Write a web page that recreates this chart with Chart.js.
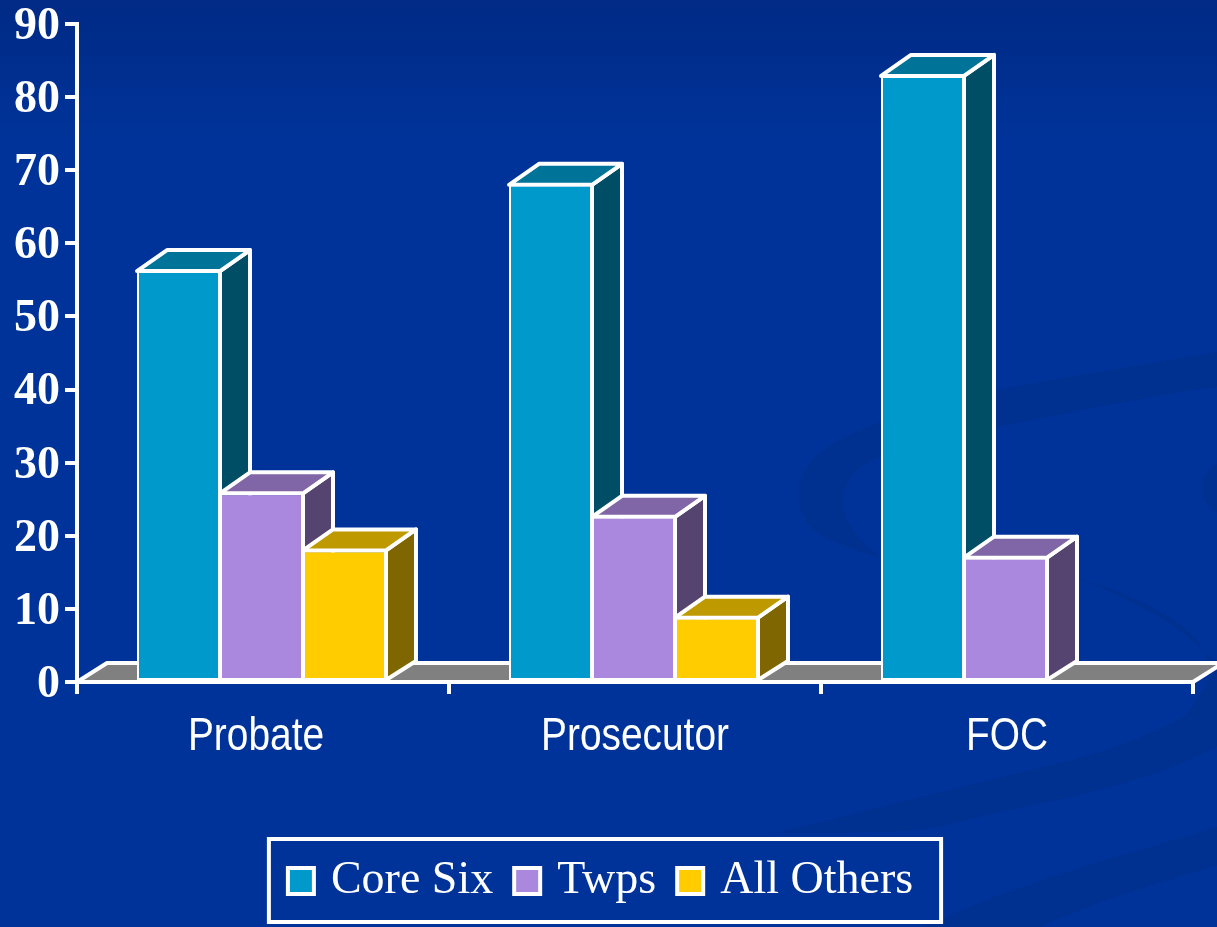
<!DOCTYPE html>
<html>
<head>
<meta charset="utf-8">
<style>
  html, body { margin: 0; padding: 0; background: #003399; overflow: hidden; }
  canvas { display: block; }
</style>
<script src="https://cdn.jsdelivr.net/npm/chart.js@4"></script>
</head>
<body>
<canvas id="myChart" width="1217" height="927"></canvas>
<script>
const categories = ['Probate', 'Prosecutor', 'FOC'];
const coreSix = [56.2, 68, 82.9];
const twps = [25.8, 22.6, 17];
const allOthers = [18, 8.8, null];
const seriesNames = ['Core Six', 'Twps', 'All Others'];

// front, side and top colour of each series
const frontColors = ['#0099cc', '#aa88dd', '#ffcc00'];
const sideColors = ['#004d66', '#55446f', '#806600'];
const topColors = ['#007399', '#8066a6', '#bf9900'];

const depthX = 30;
const barDepthY = 21;
const floorDepthY = 19;
// the labels are not quite centred in the original
const labelNudge = [-7, 0, 0];
const legendLift = 8;

function poly(ctx, pts, fill) {
    ctx.beginPath();
    ctx.moveTo(pts[0][0], pts[0][1]);
    for (let i = 1; i < pts.length; i++) {
        ctx.lineTo(pts[i][0], pts[i][1]);
    }
    ctx.closePath();
    ctx.fillStyle = fill;
    ctx.fill();
    ctx.lineJoin = 'round';
    ctx.lineWidth = 4;
    ctx.strokeStyle = '#ffffff';
    ctx.stroke();
}

// slide background with the darker swooshes
const backdrop = {
    id: 'backdrop',
    beforeDraw(chart) {
        const ctx = chart.ctx;
        const grad = ctx.createLinearGradient(0, 0, 0, 140);
        grad.addColorStop(0, '#002a85');
        grad.addColorStop(1, '#003399');
        ctx.fillStyle = grad;
        ctx.fillRect(0, 0, chart.width, chart.height);

        ctx.fillStyle = '#003090';
        // crescent
        ctx.beginPath();
        ctx.moveTo(1217, 352);
        ctx.bezierCurveTo(1140, 365, 1060, 378, 997, 390);
        ctx.bezierCurveTo(930, 402, 860, 425, 823, 450);
        ctx.bezierCurveTo(795, 470, 790, 505, 813, 530);
        ctx.bezierCurveTo(830, 542, 860, 552, 880, 557);
        ctx.bezierCurveTo(860, 540, 843, 525, 843, 500);
        ctx.bezierCurveTo(843, 480, 860, 465, 880, 457);
        ctx.bezierCurveTo(930, 440, 960, 433, 997, 427);
        ctx.bezierCurveTo(1060, 415, 1140, 397, 1217, 387);
        ctx.closePath();
        ctx.fill();

        // small patch on the right edge
        ctx.beginPath();
        ctx.moveTo(1217, 463);
        ctx.bezierCurveTo(1205, 472, 1200, 480, 1202, 492);
        ctx.bezierCurveTo(1204, 502, 1210, 508, 1217, 513);
        ctx.closePath();
        ctx.fill();

        // thin line widening into the wide band
        ctx.beginPath();
        ctx.moveTo(1077, 578);
        ctx.bezierCurveTo(1120, 590, 1170, 610, 1197, 640);
        ctx.bezierCurveTo(1215, 665, 1212, 685, 1183, 717);
        ctx.bezierCurveTo(1150, 735, 1110, 750, 1073, 760);
        ctx.bezierCurveTo(1010, 775, 960, 788, 907, 800);
        ctx.bezierCurveTo(860, 812, 810, 825, 773, 833);
        ctx.bezierCurveTo(830, 832, 885, 835, 940, 827);
        ctx.bezierCurveTo(985, 815, 1030, 805, 1073, 797);
        ctx.bezierCurveTo(1095, 790, 1120, 785, 1140, 778);
        ctx.bezierCurveTo(1170, 770, 1195, 757, 1217, 747);
        ctx.lineTo(1217, 665);
        ctx.bezierCurveTo(1190, 630, 1130, 598, 1077, 578);
        ctx.closePath();
        ctx.fill();

        // bottom band
        ctx.beginPath();
        ctx.moveTo(1217, 827);
        ctx.bezierCurveTo(1170, 842, 1120, 855, 1073, 870);
        ctx.bezierCurveTo(1025, 885, 970, 905, 923, 927);
        ctx.lineTo(1040, 927);
        ctx.bezierCurveTo(1060, 918, 1085, 908, 1107, 900);
        ctx.bezierCurveTo(1145, 888, 1180, 876, 1217, 865);
        ctx.closePath();
        ctx.fill();
    }
};

// floor and the side and top faces of the bars
const threeD = {
    id: 'threeD',
    beforeDatasetsDraw(chart) {
        const ctx = chart.ctx;
        const area = chart.chartArea;
        ctx.save();
        ctx.translate(-1.5, 0);
        poly(ctx, [
            [area.left + 1.5, area.bottom],
            [area.left + 1.5 + depthX, area.bottom - floorDepthY],
            [area.right + 1.5 + depthX, area.bottom - floorDepthY],
            [area.right + 1.5, area.bottom]
        ], '#808080');

        chart.data.datasets.forEach((ds, d) => {
            chart.getDatasetMeta(d).data.forEach((bar, i) => {
                if (ds.data[i] === null) return;
                const p = bar.getProps(['x', 'y', 'base', 'width'], true);
                const right = p.x + p.width / 2;
                const left = p.x - p.width / 2;
                poly(ctx, [
                    [right, p.y],
                    [right + depthX, p.y - barDepthY],
                    [right + depthX, p.base - floorDepthY],
                    [right, p.base]
                ], sideColors[d]);
                poly(ctx, [
                    [left, p.y],
                    [left + depthX, p.y - barDepthY],
                    [right + depthX, p.y - barDepthY],
                    [right, p.y]
                ], topColors[d]);
            });
        });
    },
    afterDatasetsDraw(chart) {
        chart.ctx.restore();
    }
};

// narrow category labels and the border round the legend
const extras = {
    id: 'extras',
    afterLayout(chart) {
        chart.legend.top -= legendLift;
        chart.legend.bottom -= legendLift;
    },
    afterDraw(chart) {
        const ctx = chart.ctx;
        const xScale = chart.scales.x;
        ctx.save();
        ctx.fillStyle = '#ffffff';
        ctx.font = '46px "Liberation Sans"';
        ctx.textAlign = 'center';
        ctx.textBaseline = 'alphabetic';
        categories.forEach((name, i) => {
            ctx.save();
            ctx.translate(xScale.getPixelForValue(i) + labelNudge[i], 750);
            ctx.scale(0.845, 1);
            ctx.fillText(name, 0, 0);
            ctx.restore();
        });
        const hit = chart.legend.legendHitBoxes;
        const last = hit[hit.length - 1];
        ctx.strokeStyle = '#ffffff';
        ctx.lineWidth = 4;
        const boxLeft = hit[0].left - 25;
        ctx.strokeRect(boxLeft, chart.legend.top + legendLift, last.left + last.width + 28 - boxLeft, chart.legend.height);
        ctx.restore();
    }
};

function makeDataset(values, d) {
    return {
        label: seriesNames[d],
        data: values,
        backgroundColor: frontColors[d],
        borderColor: '#ffffff',
        borderWidth: 2,
        borderSkipped: false
    };
}

const ctx = document.getElementById('myChart').getContext('2d');
const myChart = new Chart(ctx, {
    type: 'bar',
    data: {
        labels: categories,
        datasets: [coreSix, twps, allOthers].map(makeDataset)
    },
    plugins: [backdrop, threeD, extras],
    options: {
        responsive: false,
        animation: false,
        layout: {
            padding: { top: 24, right: 24, bottom: 5, left: 14 }
        },
        datasets: {
            bar: {
                categoryPercentage: 249 / 372,
                barPercentage: 1
            }
        },
        plugins: {
            tooltip: { enabled: false },
            legend: {
                position: 'bottom',
                labels: {
                    color: '#ffffff',
                    usePointStyle: true,
                    pointStyle: 'rect',
                    boxWidth: 14,
                    boxHeight: 26,
                    padding: 27,
                    font: { family: '"Liberation Serif"', size: 46, lineHeight: 1 },
                    generateLabels(chart) {
                        const items = Chart.defaults.plugins.legend.labels.generateLabels(chart);
                        items.forEach(item => { item.lineWidth = 4; });
                        return items;
                    }
                }
            }
        },
        scales: {
            x: {
                afterFit(scale) { scale.height = 157; },
                grid: {
                    drawOnChartArea: false,
                    color: '#ffffff',
                    lineWidth: 4,
                    tickLength: 12
                },
                border: { color: '#ffffff', width: 4 },
                ticks: { display: false }
            },
            y: {
                min: 0,
                max: 90,
                afterFit(scale) {
                    scale.width = 63;
                    scale.paddingTop = 0;
                    scale.paddingBottom = 0;
                },
                grid: {
                    drawOnChartArea: false,
                    color: '#ffffff',
                    lineWidth: 4,
                    tickLength: 12
                },
                border: { color: '#ffffff', width: 4 },
                ticks: {
                    color: '#ffffff',
                    stepSize: 10,
                    padding: 5,
                    labelOffset: 3,
                    font: { family: '"Liberation Serif"', size: 46, weight: 'bold', lineHeight: 1 }
                }
            }
        }
    }
});
</script>
</body>
</html>
